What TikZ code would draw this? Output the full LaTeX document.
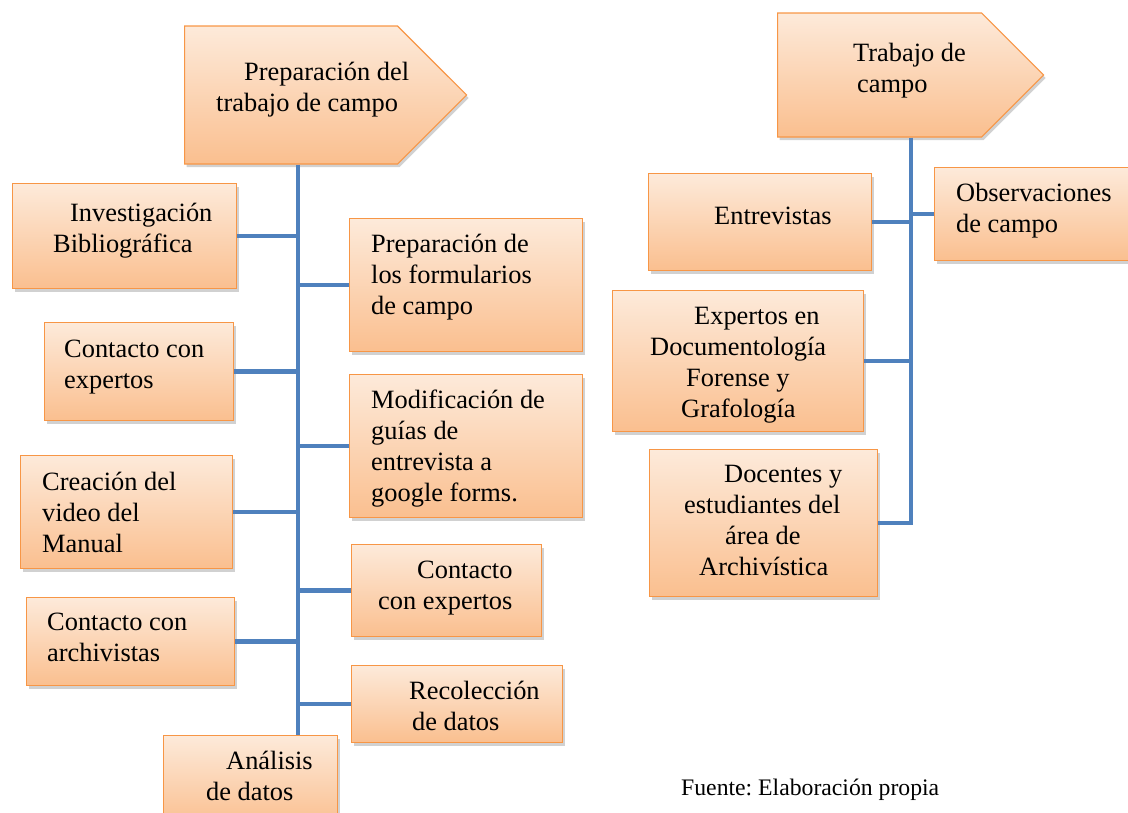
\documentclass[tikz,border=0pt]{standalone}
\usepackage{fontspec}
\setmainfont{Liberation Serif}
\frenchspacing
\usetikzlibrary{shapes.symbols, shadows, positioning}
\definecolor{naranjaClaro}{RGB}{253,234,218}
\definecolor{naranjaOscuro}{RGB}{250,191,143}
\definecolor{naranjaBorde}{RGB}{247,150,70}
\definecolor{azulRama}{RGB}{79,129,189}
\tikzset{
    caja/.style={rectangle, draw=naranjaBorde, line width=1.2pt, top color=naranjaClaro, bottom color=naranjaOscuro, drop shadow={shadow xshift=2pt, shadow yshift=-3pt, opacity=0.3, fill=black!60}},
    encabezado/.style={signal, signal to=east, signal pointer angle=90, draw=naranjaBorde, line width=1.2pt, top color=naranjaClaro, bottom color=naranjaOscuro, drop shadow={shadow xshift=2pt, shadow yshift=-3pt, opacity=0.3, fill=black!60}, inner sep=0pt},
    texto/.style={inner sep=0pt, align=left, font=\fontsize{26.4}{31}\selectfont},
    rama/.style={draw=azulRama, line width=4.5pt},
}
% #5: base de la ultima linea del texto
\newcommand{\caja}[6]{
    \node[caja, minimum width=#3, minimum height=#4, anchor=north west] (#1) at (#2) {};
    \node[texto, anchor=base west] (#1-t) at (#5) {#6};
}
\newcommand{\rama}[2]{\draw[rama] (#1) -- (#1 -| #2);}
\begin{document}
\begin{tikzpicture}[x=1pt, y=-1pt]
    \useasboundingbox (0,0) rectangle (1128,812);

    % ejes
    \coordinate (espL) at (298,0);
    \coordinate (espR) at (911,0);

    % encabezados
    \node[encabezado, minimum width=282pt, minimum height=138pt, anchor=west] (encL) at (184,95) {};
    \node[texto, anchor=base west] (encL-t) at (216,111) {\hspace*{28pt}Preparación del\\trabajo de campo};
    \node[encabezado, minimum width=266pt, minimum height=124pt, anchor=west] (encR) at (777,75) {};
    \node[texto, anchor=base west] (encR-t) at (853,92) {Trabajo de\\\hspace*{4pt}campo};

    % espina izquierda
    \draw[rama] (espL |- encL.south) -- (espL |- 0,736);

    % cajas izquierda
    \caja{inv}{12,183}{224pt}{105pt}{53,252}{\hspace*{17pt}Investigación\\Bibliográfica}
    \caja{cexp}{44,322}{189pt}{98pt}{64,388}{Contacto con\\expertos}
    \caja{cre}{20,455}{212pt}{113pt}{42,552}{Creación del\\video del\\Manual}
    \caja{carch}{26,597}{208pt}{88pt}{47,661}{Contacto con\\archivistas}
    \caja{ana}{163,735}{174pt}{90pt}{206,800}{\hspace*{20pt}Análisis\\de datos}
    \caja{prep}{349,218}{233pt}{133pt}{371,314}{Preparación de\\los formularios\\de campo}
    \caja{mod}{349,374}{233pt}{143pt}{371,501}{Modificación de\\guías de\\entrevista a\\google forms.}
    \caja{cexpB}{351,544}{190pt}{92pt}{378,609}{\hspace*{39pt}Contacto\\con expertos}
    \caja{rec}{351,665}{211pt}{77pt}{409,730}{Recolección\\\hspace*{3pt}de datos}

    \rama{inv.east}{espL}
    \rama{cexp.east}{espL}
    \rama{cre.east}{espL}
    \rama{carch.east}{espL}
    \rama{prep.west}{espL}
    \rama{mod.west}{espL}
    \rama{cexpB.west}{espL}
    \rama{rec.west}{espL}

    % cajas derecha
    \caja{ent}{648,173}{223pt}{97pt}{714,224}{Entrevistas}
    \caja{obs}{934,167}{200pt}{93pt}{956,232}{Observaciones\\de campo}
    \caja{expd}{612,290}{251pt}{141pt}{650,417}{\hspace*{44pt}Expertos en\\Documentología\\\hspace*{36pt}Forense y\\\hspace*{31pt}Grafología}
    \caja{doc}{649,449}{228pt}{147pt}{684,575}{\hspace*{40pt}Docentes y\\estudiantes del\\\hspace*{41pt}área de\\\hspace*{15pt}Archivística}

    % espina derecha
    \draw[rama] (espR |- encR.south) -- (espR |- doc.east) -- (doc.east);
    \rama{ent.east}{espR}
    \rama{obs.west}{espR}
    \rama{expd.east}{espR}

    \node[inner sep=0pt, anchor=base west, font=\fontsize{23.7}{28}\selectfont] (fuente) at (681,795) {Fuente: Elaboración propia};
\end{tikzpicture}
\end{document}
